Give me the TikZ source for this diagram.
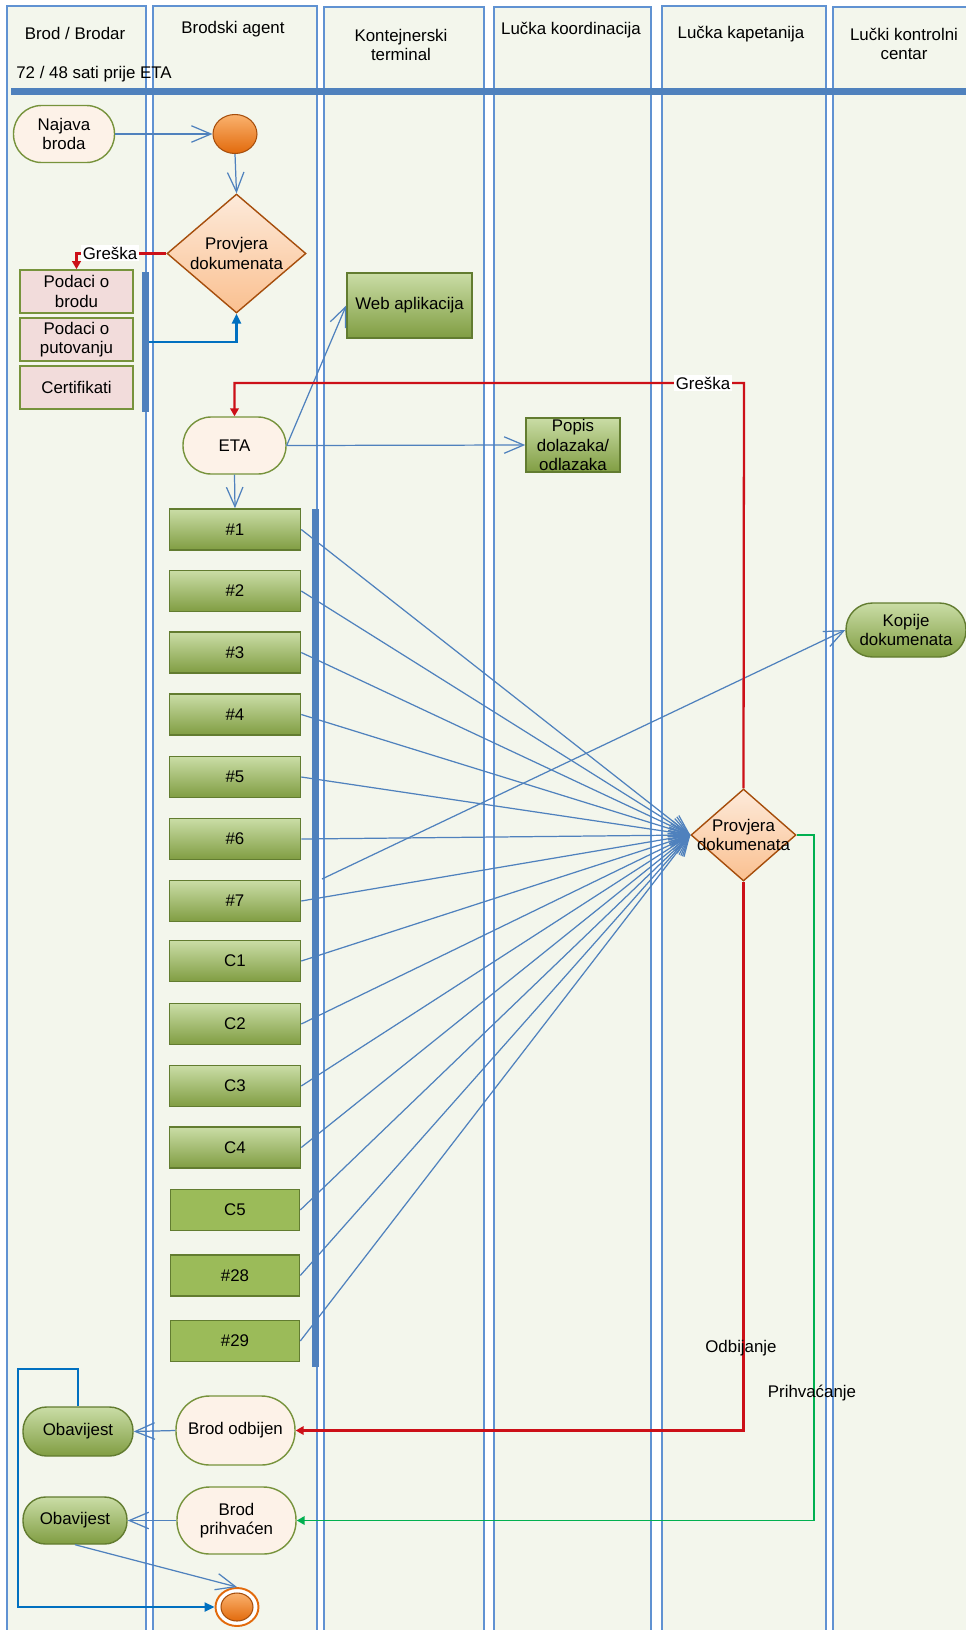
\documentclass[tikz,border=0pt]{standalone}
\usepackage{fontspec}
\setmainfont{Liberation Sans}
\usetikzlibrary{shapes.geometric,arrows.meta}

\definecolor{laneFill}{RGB}{243,246,236}
\definecolor{laneLine}{RGB}{79,129,189}
\definecolor{laneEdge}{RGB}{96,146,210}
\definecolor{cream}{RGB}{253,242,232}
\definecolor{olive}{RGB}{119,147,60}
\definecolor{darkOlive}{RGB}{98,124,48}
\definecolor{greenTop}{RGB}{202,221,166}
\definecolor{greenBot}{RGB}{128,157,66}
\definecolor{greenFlat}{RGB}{155,187,89}
\definecolor{pinkFill}{RGB}{242,220,219}
\definecolor{peachTop}{RGB}{253,234,218}
\definecolor{peachBot}{RGB}{250,192,144}
\definecolor{rust}{RGB}{166,78,12}
\definecolor{orTop}{RGB}{250,178,110}
\definecolor{orBot}{RGB}{226,106,12}
\definecolor{errRed}{RGB}{204,16,24}
\definecolor{joinBlue}{RGB}{0,112,192}
\definecolor{okGreen}{RGB}{0,176,80}

\begin{document}
\begin{tikzpicture}[
    x=0.02cm, y=-0.02cm,
    every node/.style={font=\fontsize{9.6}{11}\selectfont, align=center},
    swimlane/.style={draw=laneEdge, line width=0.6pt, fill=laneFill},
    joinbar/.style={rectangle, fill=laneLine, inner sep=0pt, minimum width=0.14cm},
    evnode/.style={rectangle, rounded corners=0.56cm, draw=olive, line width=0.8pt, fill=cream, inner sep=1pt},
    notenode/.style={rectangle, rounded corners=0.47cm, draw=darkOlive, line width=0.8pt, top color=greenTop, bottom color=greenBot, inner sep=1pt},
    docbox/.style={rectangle, draw=olive, line width=0.9pt, fill=pinkFill, minimum width=2.26cm, minimum height=0.86cm, inner sep=1pt},
    taskbox/.style={rectangle, draw=darkOlive, line width=0.9pt, top color=greenTop, bottom color=greenBot, inner sep=1pt},
    formbox/.style={taskbox, minimum width=2.62cm, minimum height=0.82cm},
    flatbox/.style={formbox, top color=greenFlat, bottom color=greenFlat},
    checknode/.style={diamond, draw=rust, line width=0.8pt, top color=peachTop, bottom color=peachBot, inner sep=0pt},
    startnode/.style={ellipse, draw=rust, line width=0.6pt, top color=orTop, bottom color=orBot, inner sep=0pt},
    flowpath/.style={-{Straight Barb[length=3.9mm,width=3.3mm]}, laneLine, line width=0.7pt},
    errpath/.style={-{Triangle[length=1.6mm,width=1.7mm]}, errRed, line width=1.3pt},
    okpath/.style={-{Triangle[length=1.6mm,width=1.7mm]}, okGreen, line width=1.1pt},
    joinpath/.style={-{Triangle[length=2mm,width=1.8mm]}, joinBlue, line width=1.3pt},
    errlabel/.style={fill=white, inner sep=1pt},
]

\clip (0,0) rectangle (966,1630);
\fill[white] (0,0) rectangle (966,1630);

% === Swimlanes ===
\foreach \xa/\xb/\ya in {7/146/6, 153/317/6, 324/484/7, 494/651/7, 662/826/6, 833/975/7}
    \draw[swimlane] (\xa,\ya) rectangle (\xb,1640);

\node (h1) at (75,33) {Brod / Brodar};
\node (h2) at (233,29) {Brodski agent};
\node (h3) at (401,45) {Kontejnerski\\terminal};
\node (h4) at (571,30) {Lučka koordinacija};
\node (h5) at (741,34) {Lučka kapetanija};
\node (h6) at (904,44) {Lučki kontrolni\\centar};

\node[anchor=west, inner sep=0pt] (eta72) at (16,74) {72 / 48 sati prije ETA};
\draw[laneLine, line width=0.14cm] (11,91) -- (966,91);

% === Announcement and first check ===
\node[evnode, minimum width=2.02cm, minimum height=1.14cm] (najava) at (64,134) {Najava\\broda};
\node[startnode, minimum width=0.88cm, minimum height=0.78cm] (start) at (235,134) {};
\node[checknode, minimum width=2.78cm, minimum height=2.38cm,
      label={[name=prov1txt, align=center]center:Provjera\\dokumenata}] (prov1) at (236.5,253.5) {};

\draw[flowpath] (najava.east) -- (start.west);
\draw[flowpath] (start.south) -- (prov1.north);

% Documents sent by the ship
\node[docbox] (podbrod) at (76.5,291.5) {Podaci o\\brodu};
\node[docbox] (podput) at (76.5,339.5) {Podaci o\\putovanju};
\node[docbox] (cert) at (76.5,387.5) {Certifikati};
\node[joinbar, minimum height=2.8cm] (bar1) at (145.5,342) {};

\draw[joinpath] (bar1.east) -| (prov1.south);
\draw[errpath] (prov1.west) -| (podbrod.north);
\node[errlabel] (gr1) at (110,253) {Greška};

% === ETA and forms ===
\node[evnode, minimum width=2.06cm, minimum height=1.14cm] (eta) at (234.5,445.5) {ETA};
\node[taskbox, minimum width=2.5cm, minimum height=1.3cm] (web) at (409.5,305.5) {Web aplikacija};
\node[taskbox, minimum width=1.88cm, minimum height=1.08cm] (popis) at (573,445) {Popis\\dolazaka/\\odlazaka};

\draw[flowpath] (eta.east) -- (web.west);
\draw[flowpath] (eta.east) -- (popis.west);

\foreach \nm/\txt/\yy in {f1/\#1/529.5, f2/\#2/591, f3/\#3/652.5, f4/\#4/714.5,
        f5/\#5/777, f6/\#6/839, f7/\#7/901, f8/C1/961, f9/C2/1024, f10/C3/1086, f11/C4/1147.5}
    \node[formbox] (\nm) at (235,\yy) {\txt};
\foreach \nm/\txt/\yy in {f12/C5/1210, f13/\#28/1275.5, f14/\#29/1341}
    \node[flatbox, minimum width=2.58cm] (\nm) at (235,\yy) {\txt};
\node[joinbar, minimum height=17.16cm] (bar2) at (315.5,938) {};

\draw[flowpath] (eta.south) -- (f1.north);

% === Port authority check ===
\node[checknode, minimum width=2.1cm, minimum height=1.84cm,
      label={[name=prov2txt, align=center]center:Provjera\\dokumenata}] (prov2) at (743.5,835) {};
\node[notenode, rounded corners=0.53cm, minimum width=2.4cm, minimum height=1.08cm] (kopije) at (906,630) {Kopije\\dokumenata};

\foreach \nm in {f1,f2,f3,f4,f5,f6,f7,f8,f9,f10,f11,f12,f13,f14}
    \draw[flowpath] (\nm.east) -- (prov2.west);

\coordinate (kop) at (322,879);
\draw[flowpath] (kop) -- (kopije.west);

% Error back to ETA
\coordinate (g2) at (744,383);
\draw[errpath] (prov2.north) -- (g2) -| (eta.north);
\node[errlabel] (gr2) at (703,383) {Greška};

% === Outcome ===
\node[evnode, rounded corners=0.67cm, minimum width=2.38cm, minimum height=1.38cm] (odbij) at (235.5,1430.5) {Brod odbijen};
\node[evnode, rounded corners=0.65cm, minimum width=2.38cm, minimum height=1.34cm] (prihv) at (236.5,1520.5) {Brod\\prihvaćen};
\node[notenode, minimum width=2.2cm, minimum height=0.98cm] (obav1) at (78,1431.5) {Obavijest};
\node[notenode, rounded corners=0.45cm, minimum width=2.08cm, minimum height=0.94cm] (obav2) at (75,1520.5) {Obavijest};

\draw[errpath] (prov2.south) |- (odbij.east);
\draw[okpath] (prov2.east) -- ++(17,0) |- (prihv.east);
\node (odb) at (741,1348) {Odbijanje};
\node (prih) at (812,1393) {Prihvaćanje};

\draw[flowpath] (odbij.west) -- (obav1.east);
\draw[flowpath] (prihv.west) -- (obav2.east);

% End state
\node[ellipse, draw=orBot, line width=1.1pt, fill=white, minimum width=0.86cm, minimum height=0.76cm] (fin) at (237,1607) {};
\node[startnode, minimum width=0.64cm, minimum height=0.56cm] (finin) at (237,1607) {};

\draw[flowpath] (obav2.south) -- (fin.north);
\draw[joinpath] (obav1.north) -- ++(0,-37) -| (18,1607) -- (fin.west);

\end{tikzpicture}
\end{document}
